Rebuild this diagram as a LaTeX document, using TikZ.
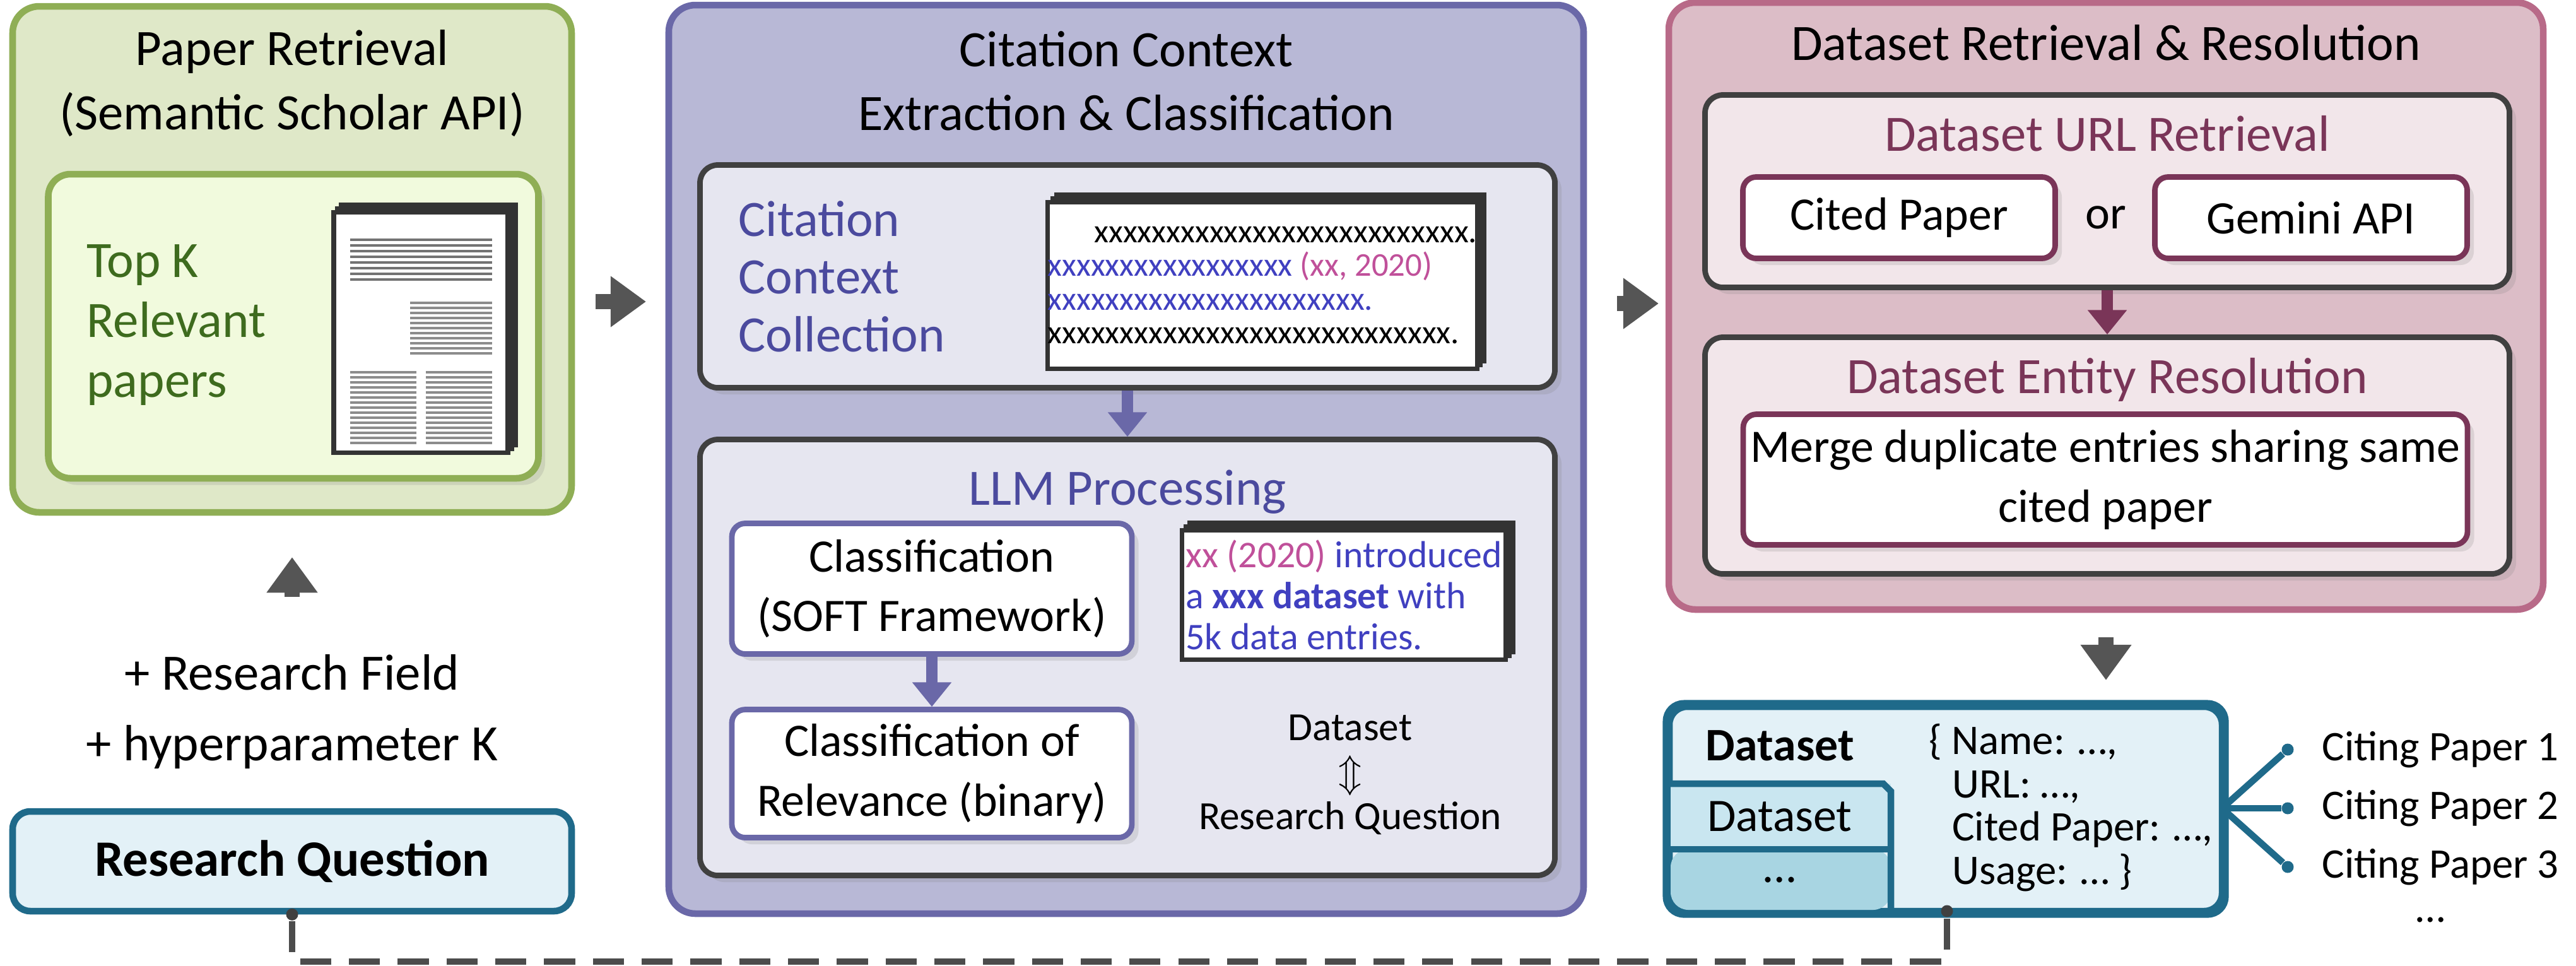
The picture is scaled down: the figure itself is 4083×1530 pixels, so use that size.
\documentclass[tikz,border=0pt]{standalone}
\usepackage{fontspec}
\setmainfont{Carlito}
\usepackage{amssymb}
\usetikzlibrary{positioning, arrows.meta, shadows}

\definecolor{grnfill}{HTML}{DFE8C8}
\definecolor{grnline}{HTML}{8FAE55}
\definecolor{grnin}{HTML}{F1FADD}
\definecolor{grntext}{HTML}{3E6B1E}
\definecolor{purfill}{HTML}{B8B8D6}
\definecolor{purline}{HTML}{6A68A8}
\definecolor{purin}{HTML}{E6E6F0}
\definecolor{purtext}{HTML}{4B4A9E}
\definecolor{pnkfill}{HTML}{DCBDC7}
\definecolor{pnkline}{HTML}{B86A88}
\definecolor{pnkin}{HTML}{F2E6EA}
\definecolor{pnktext}{HTML}{7A3558}
\definecolor{tealline}{HTML}{1F6A8A}
\definecolor{tealfill}{HTML}{E3F1F7}
\definecolor{tealmid}{HTML}{C9E6F0}
\definecolor{tealdark}{HTML}{A8D5E2}
\definecolor{xxpink}{HTML}{C0509A}
\definecolor{xxblue}{HTML}{4040C0}
\definecolor{arrowgray}{HTML}{555555}

\tikzset{
  big/.style={font=\fontsize{23}{29}\selectfont},
  mid/.style={font=\fontsize{21}{27}\selectfont},
  stage/.style={draw, line width=3pt, rounded corners=12pt, inner sep=0pt},
  panel/.style={draw=black!75, fill=purin, line width=2.5pt, rounded corners=8pt, inner sep=0pt,
    drop shadow={opacity=0.2, shadow xshift=3pt, shadow yshift=-3pt}},
  stepbox/.style={draw, fill=white, line width=2.5pt, rounded corners=6pt, inner sep=0pt, align=center, mid,
    drop shadow={opacity=0.2, shadow xshift=3pt, shadow yshift=-3pt}},
  sheet/.style={draw=black!80, fill=white, line width=2pt, inner sep=0pt},
  fat/.style={draw=arrowgray, line width=7pt, -{Triangle[length=16pt, width=22pt]}},
  downarr/.style={line width=5pt, -{Triangle[length=11pt, width=17pt]}},
  dot/.style={circle, inner sep=0pt, minimum size=1.9mm},
}

\begin{document}
\begin{tikzpicture}[x=0.1mm, y=-0.1mm]
\useasboundingbox (0,0) rectangle (4083,1530);

% paper retrieval
\node[stage, draw=grnline, fill=grnfill, minimum width=88.6mm, minimum height=80.2mm] (ret) at (463,411) {};
\node[big, align=center, below=3mm of ret.north] (rettitle) {Paper Retrieval\\(Semantic Scholar API)};
\node[draw=grnline, fill=grnin, line width=3pt, rounded corners=10pt, minimum width=77.7mm, minimum height=48.2mm,
  drop shadow={opacity=0.2, shadow xshift=3pt, shadow yshift=-3pt}] (top) at (465,517) {};
\node[text=grntext, align=left, anchor=west, font=\fontsize{23}{27}\selectfont] (topk) at (125,515) {Top K\\Relevant\\papers};
\node[sheet, minimum width=27.6mm, minimum height=38.1mm] (p3) at (679,515) {};
\node[sheet, minimum width=27.6mm, minimum height=38.1mm] (p2) at (673,521) {};
\node[sheet, minimum width=27.6mm, minimum height=38.1mm] (p1) at (667,527) {};
\foreach \i in {0,...,7} \draw[black!55, line width=1.2pt] (555,{380+\i*9}) -- (780,{380+\i*9});
\foreach \i in {0,...,10} \draw[black!45, line width=1.2pt] (650,{480+\i*8}) -- (780,{480+\i*8});
\foreach \i in {0,...,14} {
  \draw[black!45, line width=1.2pt] (555,{590+\i*8}) -- (660,{590+\i*8});
  \draw[black!45, line width=1.2pt] (675,{590+\i*8}) -- (780,{590+\i*8});
}
\draw[fat] (463,946) -- (463,883);
\node[align=center, font=\fontsize{23}{32}\selectfont] (extra) at (463,1128) {+ Research Field\\+ hyperparameter K};
\node[stage, draw=tealline, fill=tealfill, rounded corners=8pt, minimum width=88.6mm, minimum height=15.8mm,
  font=\fontsize{23}{32}\selectfont\bfseries] (rq) at (463,1365) {Research Question};

\draw[fat] (944,478) -- (1024,478);

% citation context
\node[stage, draw=purline, fill=purfill, minimum width=145mm, minimum height=144mm] (ctx) at (1785,728) {};
\node[big, align=center, below=3.4mm of ctx.north] (ctxtitle) {Citation Context\\Extraction \& Classification};
\node[panel, minimum width=135.5mm, minimum height=35.3mm] (coll) at (1787,438) {};
\node[text=purtext, align=left, anchor=west, font=\fontsize{23}{26}\selectfont] (colltext) at (1158,438) {Citation\\Context\\Collection};
\node[sheet, minimum width=67.8mm, minimum height=26.4mm] (s3) at (2013,440) {};
\node[sheet, minimum width=67.8mm, minimum height=26.4mm] (s2) at (2007,446) {};
\node[sheet, minimum width=67.8mm, minimum height=26.4mm, align=left,
  font=\fontsize{15}{15.2}\selectfont] (s1) at (2001,452)
  {\hspace*{1.4em}xxxxxxxxxxxxxxxxxxxxxxxxxx.\\
   \textcolor{xxblue}{xxxxxxxxxxxxxxxxx} \textcolor{xxpink}{(xx, 2020)}\\
   \textcolor{xxblue}{xxxxxxxxxxxxxxxxxxxxxx.}\\
   xxxxxxxxxxxxxxxxxxxxxxxxxxxx.};
\node[panel, minimum width=135.5mm, minimum height=69.1mm] (llm) at (1787,1042) {};
\draw[downarr, purline] (coll.south) -- (llm.north);
\node[big, text=purtext, below=4mm of llm.north] (llmtitle) {LLM Processing};
\node[stepbox, draw=purline, minimum width=63.4mm, minimum height=20.7mm] (cls) at (1477,933) {Classification\\(SOFT Framework)};
\node[stepbox, draw=purline, minimum width=63.4mm, minimum height=20.3mm] (rel) at (1477,1226) {Classification of\\Relevance (binary)};
\draw[downarr, purline] (cls.south) -- (rel.north);
\node[sheet, minimum width=51.3mm, minimum height=20.5mm] (o3) at (2142,931) {};
\node[sheet, minimum width=51.3mm, minimum height=20.5mm] (o2) at (2136,937) {};
\node[sheet, minimum width=51.3mm, minimum height=20.5mm, align=left, font=\fontsize{17}{18.5}\selectfont] (o1) at (2130,943)
  {\textcolor{xxpink}{xx (2020)} \textcolor{xxblue}{introduced}\\
   \textcolor{xxblue}{a \textbf{xxx dataset} with}\\
   \textcolor{xxblue}{5k data entries.}};
\node[align=center, font=\fontsize{18}{20}\selectfont] (match) at (2140,1228) {Dataset\\$\Updownarrow$\\Research Question};

\draw[fat] (2563,481) -- (2629,481);

% dataset retrieval
\node[stage, draw=pnkline, fill=pnkfill, minimum width=138.6mm, minimum height=96.2mm] (res) at (3338,485) {};
\node[big, below=2.8mm of res.north] (restitle) {Dataset Retrieval \& Resolution};
\node[panel, fill=pnkin, minimum width=127.5mm, minimum height=30.5mm] (url) at (3340,303) {};
\node[big, text=pnktext, below=2.5mm of url.north] (urltitle) {Dataset URL Retrieval};
\node[stepbox, draw=pnktext, minimum width=49.5mm, minimum height=12.9mm] (cited) at (3010,345) {Cited Paper};
\node[mid] (or) at (3338,345) {or};
\node[stepbox, draw=pnktext, minimum width=49.5mm, minimum height=12.9mm] (gemini) at (3663,345) {Gemini API};
\node[panel, fill=pnkin, minimum width=127.5mm, minimum height=37.5mm] (ent) at (3340,722) {};
\draw[downarr, pnktext] (url.south) -- (ent.north);
\node[big, text=pnktext, below=2.5mm of ent.north] (enttitle) {Dataset Entity Resolution};
\node[stepbox, draw=pnktext, minimum width=114.8mm, minimum height=20.7mm] (merge) at (3337,760) {Merge duplicate entries sharing same\\cited paper};

\draw[fat] (3338,1010) -- (3338,1078);

% dataset record
\node[stage, draw=tealline, fill=tealfill, rounded corners=8pt, minimum width=87.6mm, minimum height=32.4mm] (db) at (3084,1282) {};
\fill[tealmid] (2648,1242) rectangle (2997,1346);
\fill[tealdark, rounded corners=8pt] (2648,1346) -- (2997,1346) -- (2997,1442) -- (2648,1442) -- cycle;
\draw[tealline, line width=3pt] (2647,1242) -- (2985,1242) -- (2997,1254) -- (2997,1444);
\draw[tealline, line width=3pt] (2647,1346) -- (2997,1346);
\draw[tealline, line width=3pt, rounded corners=8pt] (db.south west) rectangle (db.north east);
\node[font=\fontsize{21}{28}\selectfont\bfseries] (dbname) at (2821,1182) {Dataset};
\node[mid] (dbrow) at (2821,1294) {Dataset};
\node[mid] (dbdots) at (2821,1395) {\dots};
\node[align=left, anchor=west, font=\fontsize{19}{19.5}\selectfont] (rec) at (3045,1280)
  {\{ Name: \dots,\\\hspace*{0.55em}URL: \dots,\\\hspace*{0.55em}Cited Paper: \dots,\\\hspace*{0.55em}Usage: \dots\ \}};
\coordinate (hub) at (3522,1281);
\foreach \n/\y in {1/1188, 2/1281, 3/1374} {
  \node[dot, fill=tealline] (c\n) at (3626,\y) {};
  \draw[tealline, line width=3pt] (hub) -- (c\n);
  \node[font=\fontsize{19}{25}\selectfont, anchor=west] (cite\n) at (3668,\y) {Citing Paper \n};
}
\node[font=\fontsize{19}{25}\selectfont] (citedots) at (3853,1458) {\dots};

% feedback link
\node[dot, fill=black!75] (d1) at (rq.south) {};
\node[dot, fill=black!75] (d2) at (3086,1444) {};
\draw[black!70, line width=3pt, dash pattern=on 14pt off 8pt] (d1) |- (1800,1524) -| (d2);
\end{tikzpicture}
\end{document}
